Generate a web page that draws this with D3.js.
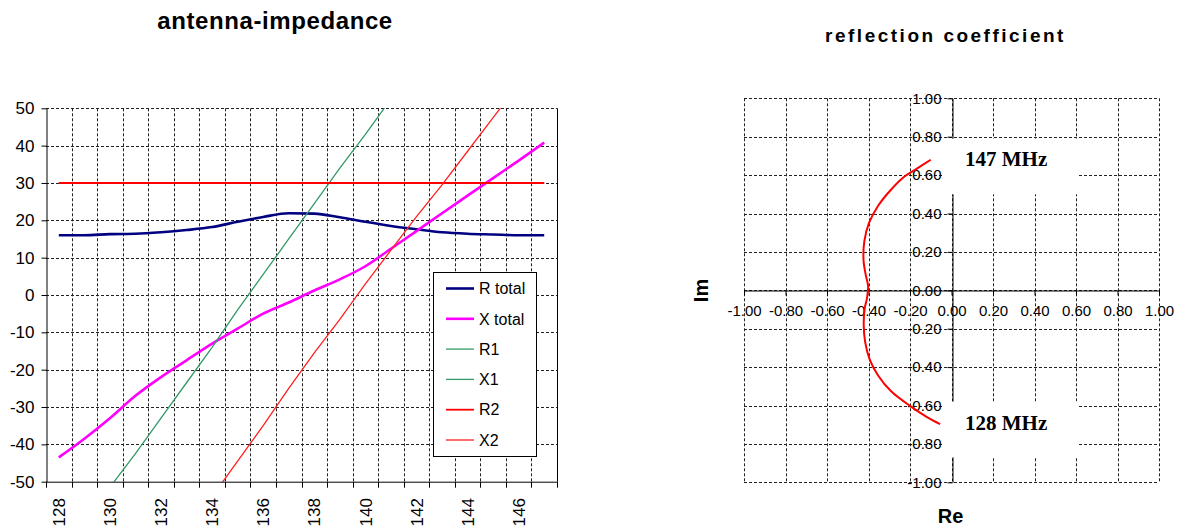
<!DOCTYPE html>
<html>
<head>
<meta charset="utf-8">
<script src="https://cdn.jsdelivr.net/npm/d3@7/dist/d3.min.js"></script>
<style>
  html, body { margin: 0; padding: 0; background: #fff; }
  svg { display: block; font-family: "Liberation Sans", Arial, sans-serif; }
</style>
</head>
<body>
<svg id="chart" width="1183" height="528"></svg>
<script>
// ---------- data: antenna impedance ----------
const freqs = [128,129,130,131,132,133,134,135,136,137,138,139,140,141,142,143,144,145,146,147];
const freqLabels = [128,130,132,134,136,138,140,142,144,146];
const rTotal = [16.0,16.0,16.3,16.4,16.8,17.4,18.2,19.6,20.9,21.9,21.8,20.8,19.6,18.5,17.6,16.8,16.4,16.2,16.0,16.0];
const xTotal = [-43.5,-38.5,-33,-27,-22,-17.5,-13,-9,-5,-2,1.2,4.2,7.7,12.4,17.1,21.9,26.6,31.3,36,40.8];
const r1 = [30,30,30,30,30,30,30,30,30,30,30,30,30,30,30,30,30,30,30,30];
const x1 = [-70,-60.5,-51.5,-42.5,-33,-23.5,-14,-4,5.5,15,24.5,34,43,52.5,62,71,80.5,90,99,108];
const r2 = [30,30,30,30,30,30,30,30,30,30,30,30,30,30,30,30,30,30,30,30];
const x2 = [-107,-98,-89,-80,-71,-62,-54,-44.5,-35,-25,-15.5,-6.5,3,12,21,29.5,38.5,47.5,56.5,65.5];
const impTicks = [-50,-40,-30,-20,-10,0,10,20,30,40,50];
const seriesNames = ["R total","X total","R1","X1","R2","X2"];

// ---------- data: reflection coefficient ----------
const gammaRe = [-0.055,-0.12,-0.2,-0.291,-0.353,-0.394,-0.416,-0.423,-0.419,-0.407,-0.402,-0.414,-0.424,-0.42,-0.397,-0.352,-0.295,-0.235,-0.165,-0.10];
const gammaIm = [-0.697,-0.659,-0.602,-0.526,-0.445,-0.361,-0.27,-0.183,-0.099,-0.039,0.023,0.084,0.157,0.256,0.352,0.443,0.52,0.585,0.635,0.68];
const reflTicks = [-1,-0.8,-0.6,-0.4,-0.2,0,0.2,0.4,0.6,0.8,1];
const freqNotes = ["147 MHz","128 MHz"];

const svg = d3.select("#chart");
const GRID = "#222", DASH = "3,2";
const hy = s => String(s).replace("\u2212", "-");

// ================= LEFT CHART =================
const L = {x0: 46, x1: 557, y0: 108.3, y1: 481.7};
const xB = d3.scaleBand().domain(freqs).range([L.x0, L.x1]).padding(0);
const yL = d3.scaleLinear().domain([-50, 50]).range([L.y1, L.y0]);
const cx = f => xB(f) + xB.bandwidth() / 2;

const left = svg.append("g");
left.append("text").attr("x", 275).attr("y", 29).attr("text-anchor", "middle")
  .attr("font-size", 24).attr("font-weight", "bold").attr("letter-spacing", "0.6")
  .text("antenna-impedance");

// gridlines
const boundaries = freqs.slice(1).map(f => xB(f)).concat([L.x1]);
left.append("g").selectAll("line").data(impTicks.filter(t => t > -50)).join("line")
  .attr("x1", L.x0).attr("x2", L.x1).attr("y1", d => Math.round(yL(d)) + 0.5).attr("y2", d => Math.round(yL(d)) + 0.5)
  .attr("stroke", GRID).attr("stroke-dasharray", DASH);
left.append("g").selectAll("line").data(boundaries.slice(0, -1)).join("line")
  .attr("x1", d => Math.round(d) + 0.5).attr("x2", d => Math.round(d) + 0.5).attr("y1", L.y0).attr("y2", L.y1)
  .attr("stroke", GRID).attr("stroke-dasharray", DASH);
left.append("line").attr("x1", L.x1 + 0.5).attr("x2", L.x1 + 0.5).attr("y1", yL(50)).attr("y2", yL(-50)).attr("stroke", "#000");

// series
svg.append("defs").append("clipPath").attr("id", "clipL").append("rect")
  .attr("x", L.x0).attr("y", L.y0).attr("width", L.x1 - L.x0).attr("height", L.y1 - L.y0);
const series = [
  {name: seriesNames[0], vals: rTotal, color: "#000080", w: 2.6, smooth: true},
  {name: seriesNames[1], vals: xTotal, color: "#ff00ff", w: 2.6, smooth: true},
  {name: seriesNames[2], vals: r1, color: "#339966", w: 1.3, smooth: false},
  {name: seriesNames[3], vals: x1, color: "#339966", w: 1.3, smooth: false},
  {name: seriesNames[4], vals: r2, color: "#ff0000", w: 1.8, smooth: false},
  {name: seriesNames[5], vals: x2, color: "#ff2020", w: 1.3, smooth: false}
];
const plotG = left.append("g").attr("clip-path", "url(#clipL)");
series.forEach(s => {
  const line = d3.line().x((d, i) => cx(freqs[i])).y(d => yL(d))
    .curve(s.smooth ? d3.curveMonotoneX : d3.curveLinear);
  plotG.append("path").datum(s.vals).attr("d", line).attr("fill", "none")
    .attr("stroke", s.color).attr("stroke-width", s.w).attr("stroke-linejoin", "round");
});

// axes
const yAxisL = left.append("g").attr("transform", `translate(${L.x0 + 0.5},0)`)
  .call(d3.axisLeft(yL).tickValues(impTicks).tickFormat(d => hy(d)).tickSize(5).tickSizeOuter(0).tickPadding(7));
yAxisL.selectAll("text").attr("font-size", 17).attr("fill", "#000").attr("font-family", "Liberation Sans, Arial, sans-serif");
yAxisL.selectAll("line,path").attr("stroke", "#000");
left.append("line").attr("x1", L.x0).attr("x2", L.x1 + 1).attr("y1", yL(-50) + 0.5).attr("y2", yL(-50) + 0.5).attr("stroke", "#000");
left.append("g").selectAll("line").data([L.x0].concat(boundaries)).join("line")
  .attr("x1", d => Math.round(d) + 0.5).attr("x2", d => Math.round(d) + 0.5)
  .attr("y1", yL(-50)).attr("y2", yL(-50) + 6).attr("stroke", "#000");
left.append("g").selectAll("text").data(freqLabels).join("text")
  .attr("transform", d => `translate(${cx(d)},498) rotate(-90)`)
  .attr("text-anchor", "end").attr("dy", "0.36em").attr("font-size", 17).text(d => d);

// legend
const lg = left.append("g");
lg.append("rect").attr("x", 433.5).attr("y", 272.5).attr("width", 103).attr("height", 184)
  .attr("fill", "#fff").attr("stroke", "#000");
series.forEach((s, i) => {
  const y = 288.5 + i * 30.3;
  lg.append("line").attr("x1", 446).attr("x2", 474).attr("y1", y).attr("y2", y)
    .attr("stroke", s.color).attr("stroke-width", s.w);
  lg.append("text").attr("x", 479).attr("y", y).attr("dy", "0.36em").attr("font-size", 16).text(s.name);
});

// ================= RIGHT CHART =================
const xR = d3.scaleLinear().domain([-1, 1]).range([744, 1159]);
const yR = d3.scaleLinear().domain([-1, 1]).range([482.3, 98.3]);
const right = svg.append("g");
right.append("text").attr("x", 945.5).attr("y", 41.5).attr("text-anchor", "middle")
  .attr("font-size", 19).attr("font-weight", "bold").attr("letter-spacing", "2.5")
  .text("reflection coefficient");

right.append("g").selectAll("line").data(reflTicks).join("line")
  .attr("x1", xR(-1)).attr("x2", xR(1)).attr("y1", d => Math.round(yR(d)) + 0.5).attr("y2", d => Math.round(yR(d)) + 0.5)
  .attr("stroke", GRID).attr("stroke-dasharray", DASH);
right.append("g").selectAll("line").data(reflTicks).join("line")
  .attr("x1", d => Math.round(xR(d)) + 0.5).attr("x2", d => Math.round(xR(d)) + 0.5).attr("y1", yR(1)).attr("y2", yR(-1))
  .attr("stroke", GRID).attr("stroke-dasharray", DASH);

const fmt = d => hy(d3.format(".2f")(d));
const xAxisR = right.append("g").attr("transform", `translate(0,${Math.round(yR(0)) + 0.5})`)
  .call(d3.axisBottom(xR).tickValues(reflTicks).tickFormat(fmt).tickSize(5).tickSizeOuter(0).tickPadding(10));
const yAxisR = right.append("g").attr("transform", `translate(${Math.round(xR(0)) + 0.5},0)`)
  .call(d3.axisLeft(yR).tickValues(reflTicks).tickFormat(fmt).tickSize(5).tickSizeOuter(0).tickPadding(6));
[xAxisR, yAxisR].forEach(a => {
  a.attr("font-size", 15);
  a.selectAll("text").attr("font-size", 15).attr("fill", "#000").attr("font-family", "Liberation Sans, Arial, sans-serif");
  a.selectAll("line,path").attr("stroke", "#000");
});

// curve
const gLine = d3.line().x((d, i) => xR(gammaRe[i])).y((d, i) => yR(gammaIm[i])).curve(d3.curveCatmullRom);
right.append("path").datum(freqs).attr("d", gLine).attr("fill", "none")
  .attr("stroke", "#ff0000").attr("stroke-width", 2);

// frequency annotations
const notes = [
  {text: freqNotes[0], top: 0.79, bottom: 0.50, base: 0.645},
  {text: freqNotes[1], top: -0.58, bottom: -0.87, base: -0.73}
];
notes.forEach(n => {
  right.append("rect").attr("x", xR(-0.04)).attr("width", xR(0.61) - xR(-0.04))
    .attr("y", yR(n.top)).attr("height", yR(n.bottom) - yR(n.top)).attr("fill", "#fff");
  right.append("text").attr("x", xR(0.065)).attr("y", yR(n.base))
    .attr("font-family", "Liberation Serif, 'Times New Roman', serif").attr("font-weight", "bold")
    .attr("font-size", 21).text(n.text);
});

right.append("text").attr("transform", `translate(708,290.5) rotate(-90)`).attr("text-anchor", "middle")
  .attr("font-size", 20).attr("font-weight", "bold").text("Im");
right.append("text").attr("x", 950.5).attr("y", 523).attr("text-anchor", "middle")
  .attr("font-size", 20).attr("font-weight", "bold").text("Re");
</script>
</body>
</html>
